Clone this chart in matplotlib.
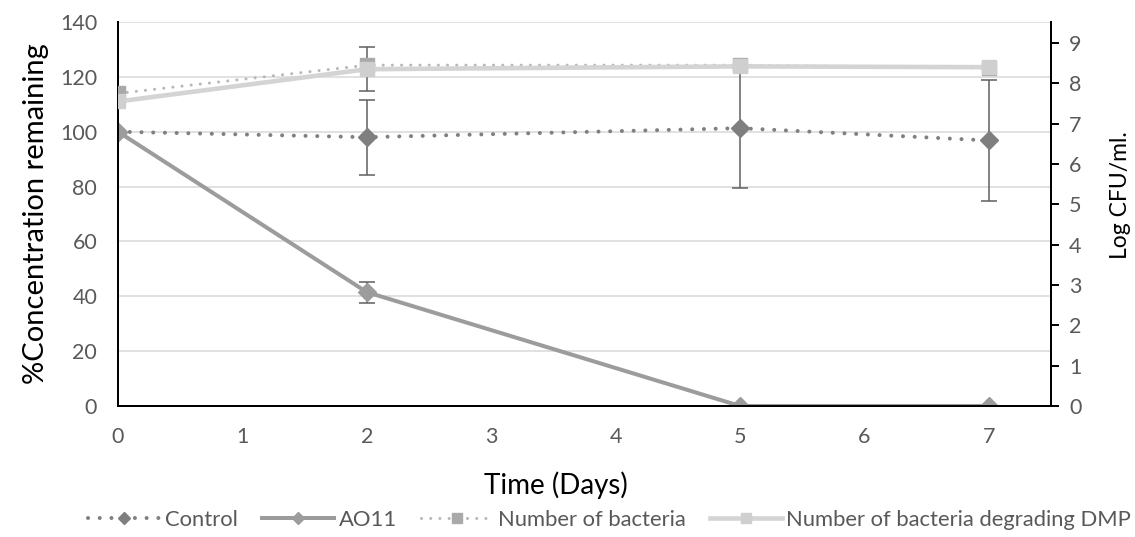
import numpy as np
import matplotlib
matplotlib.use("Agg")
import matplotlib.pyplot as plt

plt.rcParams.update({
    "font.family": ["Lato", "DejaVu Sans"],
    "font.size": 11,
    "lines.dash_capstyle": "round",
})

# ------------------------------------------------------------
# Data
# ------------------------------------------------------------
days = [0, 2, 5, 7]
day_ticks = [0, 1, 2, 3, 4, 5, 6, 7]

control = [100, 98, 101.3, 96.8]
control_err = [0, 13.6, 22, 22]

ao11 = [100, 41.5, 0, 0]
ao11_err = [0, 3.8, 0, 0]

bacteria = [7.75, 8.45, 8.45, 8.38]
bacteria_dmp = [7.55, 8.35, 8.42, 8.40]
bacteria_dmp_err = [0, 0.55, 0, 0]

left_ticks = [0, 20, 40, 60, 80, 100, 120, 140]
right_ticks = [0, 1, 2, 3, 4, 5, 6, 7, 8, 9]

TXT = "#595959"
ERR = "#5f5f5f"


def draw_err(ax, x, y, err):
    # only draw the error bars that exist
    idx = [i for i, e in enumerate(err) if e > 0]
    ax.errorbar([x[i] for i in idx], [y[i] for i in idx],
                yerr=[err[i] for i in idx], fmt="none", ecolor=ERR,
                elinewidth=1.1, capsize=6, capthick=1.1, zorder=2)


fig = plt.figure(figsize=(11.35, 5.37), dpi=100)
ax1 = fig.add_axes([0.104, 0.244, 0.822, 0.715])
ax2 = ax1.twinx()

# ----- left axis: concentration -----
draw_err(ax1, days, control, control_err)
draw_err(ax1, days, ao11, ao11_err)
ax1.plot(days, control, color="#808080", lw=2.9, linestyle=(0, (0.01, 2.9)),
         marker="D", markersize=9, markerfacecolor="#7f7f7f",
         markeredgecolor="#7f7f7f", zorder=3, label="Control")
ax1.plot(days, ao11, color="#9c9c9c", lw=2.9, marker="D", markersize=9,
         markerfacecolor="#9c9c9c", markeredgecolor="#9c9c9c", zorder=3,
         label="AO11")

# ----- right axis: bacteria -----
ax2.plot(days, bacteria, color="#b8b8b8", lw=2.2, linestyle=(0, (0.01, 3.0)),
         marker="s", markersize=10, markerfacecolor="#a9a9a9",
         markeredgecolor="#a9a9a9", zorder=3, label="Number of bacteria")
draw_err(ax2, days, bacteria_dmp, bacteria_dmp_err)
ax2.plot(days, bacteria_dmp, color="#d4d4d4", lw=3.3, marker="s",
         markersize=10, markerfacecolor="#cfcfcf", markeredgecolor="#cfcfcf",
         zorder=3, label="Number of bacteria degrading DMP")

# ----- axes formatting -----
ax1.set_xlim(0, 7.5)
ax1.set_ylim(0, 140)
ax2.set_ylim(0, 9.52)
ax1.set_xticks(day_ticks)
ax1.set_yticks(left_ticks)
ax2.set_yticks(right_ticks)

ax1.grid(axis="y", color="#d9d9d9", lw=1.1, zorder=0)
ax1.set_axisbelow(True)

for ax in (ax1, ax2):
    ax.spines["top"].set_visible(False)
    for s in ("left", "right", "bottom"):
        ax.spines[s].set_color("black")
        ax.spines[s].set_linewidth(1.4)

ax1.tick_params(axis="y", length=0, labelsize=15.5, labelcolor=TXT, pad=15)
ax1.tick_params(axis="x", length=0, labelsize=15.5, labelcolor=TXT, pad=15)
ax2.tick_params(axis="y", length=6, width=1.4, direction="out",
                labelsize=15.5, labelcolor=TXT, pad=7)

ax1.set_ylabel("%Concentration remaining", fontsize=21, labelpad=8)
ax2.set_ylabel("Log CFU/ml.", fontsize=16.5)
ax2.yaxis.set_label_coords(1.063, 0.55)
ax1.set_xlabel("Time (Days)", fontsize=20)
ax1.xaxis.set_label_coords(0.469, -0.17)

# ----- legend below the plot -----
h1, l1 = ax1.get_legend_handles_labels()
h2, l2 = ax2.get_legend_handles_labels()
leg = fig.legend(h1 + h2, l1 + l2, loc="center", bbox_to_anchor=(0.537, 0.032),
                 ncol=4, frameon=False, fontsize=15.8, handlelength=3.3,
                 columnspacing=1.1, handletextpad=0.2, markerscale=0.7)
for t in leg.get_texts():
    t.set_color(TXT)

fig.savefig("out.png", dpi=100)
